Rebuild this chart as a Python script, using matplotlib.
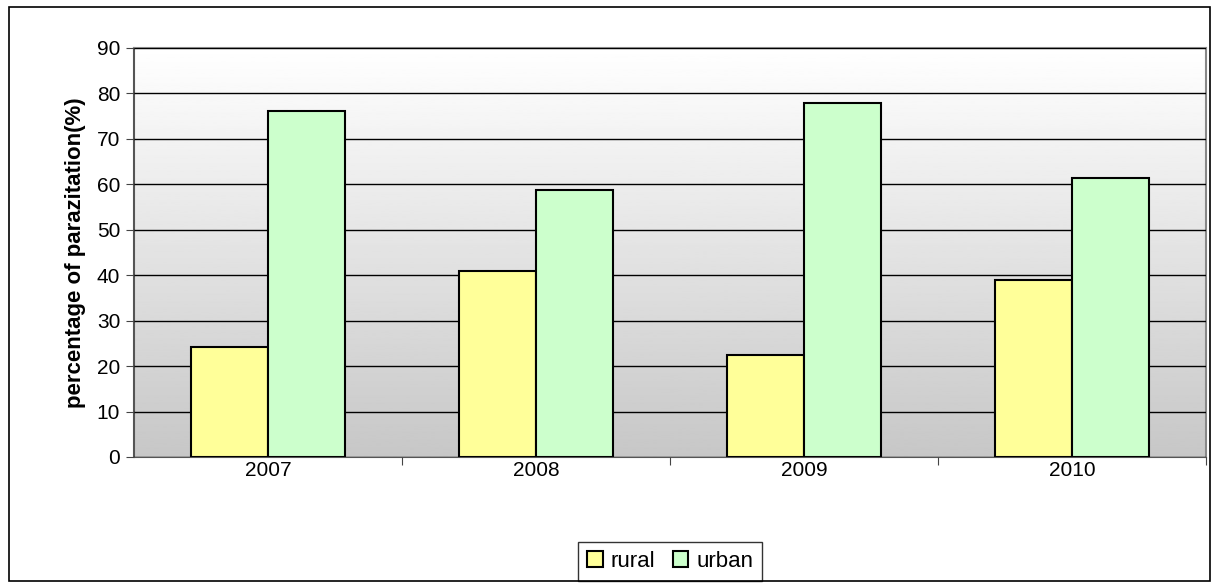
import numpy as np
import matplotlib.pyplot as plt
from matplotlib.patches import Rectangle

years = ['2007', '2008', '2009', '2010']
rural = [24.1, 40.9, 22.4, 38.9]
urban = [76.2, 58.8, 77.8, 61.3]

plt.rcParams['font.family'] = ['Liberation Sans', 'DejaVu Sans']

fig = plt.figure(figsize=(12.19, 5.84), dpi=100)
fig.patches.append(Rectangle((0.007, 0.005), 0.986, 0.983, transform=fig.transFigure,
                             fill=False, edgecolor='black', linewidth=1.2))

ax = fig.add_axes([0.110, 0.2175, 0.8794, 0.7005])

# gradient background like excel plot area
grad = np.linspace(1.0, 0.78, 256).reshape(-1, 1)
ax.imshow(grad, cmap='gray', vmin=0, vmax=1, aspect='auto',
          extent=[0, 1, 0, 1], transform=ax.transAxes, zorder=0)

x = np.arange(len(years))
w = 0.287
ax.bar(x - w / 2, rural, w, color='#FFFF99', edgecolor='black', linewidth=1.5,
       label='rural', zorder=3)
ax.bar(x + w / 2, urban, w, color='#CCFFCC', edgecolor='black', linewidth=1.5,
       label='urban', zorder=3)

ax.set_xlim(-0.5, 3.5)
ax.set_ylim(0, 90)
ax.set_yticks(range(0, 91, 10))
ax.yaxis.grid(True, color='black', linewidth=1)
ax.set_axisbelow(False)
for gl in ax.get_ygridlines():
    gl.set_zorder(1)

ax.set_xticks([0.5, 1.5, 2.5, 3.5], minor=False)
ax.set_xticklabels([])
ax.set_xticks(x, minor=True)
ax.set_xticklabels(years, minor=True)
ax.tick_params(axis='x', which='major', length=6, direction='out', color='#444444')
ax.tick_params(axis='x', which='minor', length=0, labelsize=15, pad=3)
ax.tick_params(axis='y', length=6, direction='out', color='#444444', labelsize=15, pad=4)

for s in ['top', 'right']:
    ax.spines[s].set_color('#888888')
    ax.spines[s].set_linewidth(1.5)
ax.spines['left'].set_color('#555555')
ax.spines['bottom'].set_color('#555555')
ax.spines['left'].set_linewidth(1.5)

ax.set_ylabel('percentage of parazitation(%)', fontsize=16, fontweight='bold', labelpad=8)

leg = ax.legend(loc='lower center', bbox_to_anchor=(0.5, -0.33), ncol=2, frameon=True,
                fancybox=False, edgecolor='black', fontsize=16, handlelength=0.7,
                handleheight=0.7, handletextpad=0.35, columnspacing=0.8,
                borderpad=0.4)
leg.get_frame().set_linewidth(1)

fig.savefig('out.png', dpi=100)
